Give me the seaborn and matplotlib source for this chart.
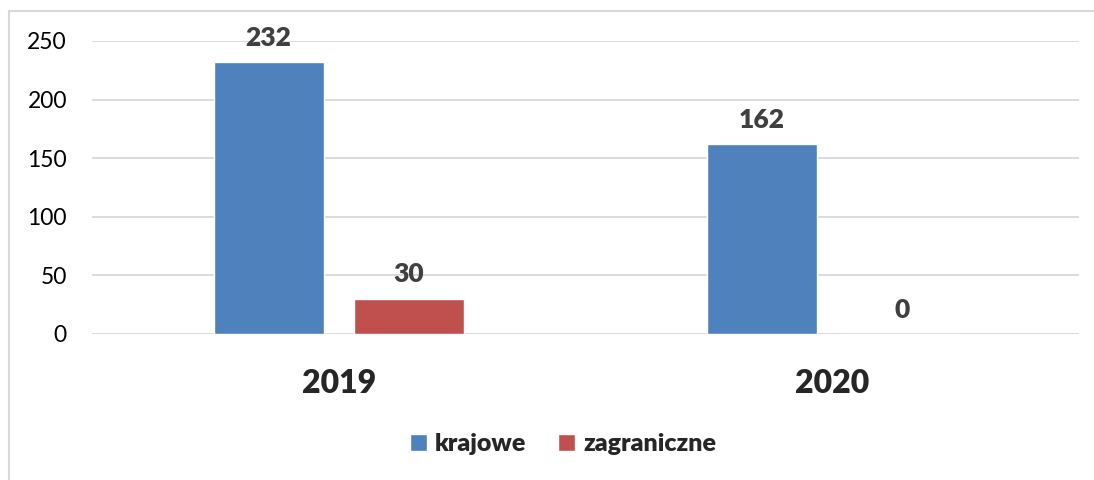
import matplotlib
matplotlib.use("Agg")
import matplotlib.pyplot as plt
import seaborn as sns
import pandas as pd
from matplotlib.patches import Rectangle

years = ["2019", "2020"]
series = ["krajowe", "zagraniczne"]
krajowe = [232, 162]
zagraniczne = [30, 0]
colors = ["#4F81BD", "#C0504D"]

df = pd.DataFrame({
    "rok": years * 2,
    "typ": [series[0]] * 2 + [series[1]] * 2,
    "wartosc": krajowe + zagraniczne,
})

sns.set_theme(style="white")
plt.rcParams["font.family"] = ["Lato", "DejaVu Sans"]

fig = plt.figure(figsize=(10.94, 4.80), dpi=100)
ax = fig.add_axes([92 / 1094, 1 - 334 / 480, (1079 - 92) / 1094, (334 - 41) / 480])

sns.barplot(data=df, x="rok", y="wartosc", hue="typ", order=years, hue_order=series,
            palette=colors, width=0.568, gap=0.214, saturation=1, ax=ax, legend=True)

for cont in ax.containers:
    ax.bar_label(cont, labels=[f"{v:.0f}" for v in cont.datavalues], padding=9,
                 fontsize=19, fontweight="heavy", color="#404040", clip_on=False)

ax.set_ylim(0, 250)
ax.set_xlim(-0.5, 1.5)
ax.set_yticks([0, 50, 100, 150, 200, 250])
ax.yaxis.grid(True, color="#D9D9D9", linewidth=1.3)
ax.set_axisbelow(True)
for s in ax.spines.values():
    s.set_visible(False)
ax.tick_params(axis="y", length=0, pad=18, labelsize=16.5, labelcolor="#000000")
ax.tick_params(axis="x", length=0, pad=25, labelsize=23)
for t in ax.get_xticklabels():
    t.set_fontweight("heavy")
ax.set_xlabel("")
ax.set_ylabel("")

leg = ax.legend(loc="center", bbox_to_anchor=(563 / 1094, 1 - 444 / 480),
                bbox_transform=fig.transFigure, ncol=2, frameon=False,
                handlelength=0.68, handleheight=0.68, handletextpad=0.3,
                columnspacing=1.3, prop={"size": 18, "weight": "heavy"})

fig.patches.append(Rectangle((9 / 1094, -0.1), 1.2, 1 - 11 / 480 + 0.1,
                             transform=fig.transFigure, fill=False,
                             edgecolor="#D9D9D9", linewidth=1.5))

fig.savefig("out.png", dpi=100)
